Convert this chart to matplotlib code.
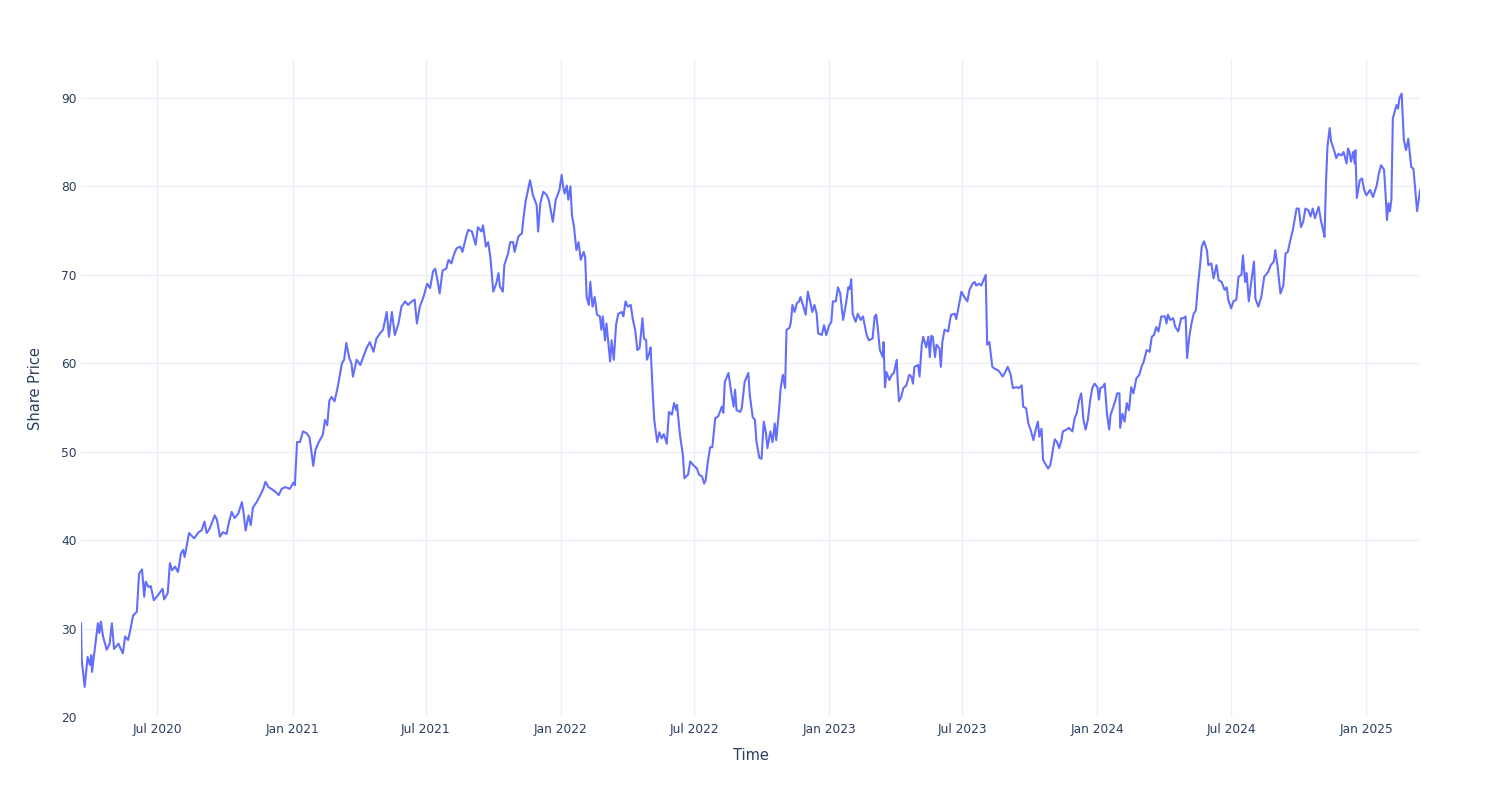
import pandas as pd
import matplotlib.pyplot as plt
import matplotlib.dates as mdates

# serie: dias desde el inicio y precio
start_date = '2020-03-19'
day_offsets = [
    0, 1, 5, 9, 12, 14, 15, 18, 23, 25, 27, 30, 35, 39, 42, 45, 51, 53, 57, 60,
    64, 67, 71, 76, 79, 83, 86, 88, 92, 95, 99, 105, 111, 113, 118, 121, 124, 128, 132, 136,
    139, 141, 147, 154, 160, 164, 168, 171, 175, 182, 185, 189, 193, 198, 201, 205, 209, 214, 219, 221,
    224, 228, 231, 234, 239, 244, 248, 251, 255, 259, 264, 269, 273, 278, 284, 289, 291, 294, 298, 302,
    307, 311, 316,
    319, 323, 329, 332, 335, 338, 341, 345, 349, 351, 355, 358, 361, 365, 368, 370, 375, 380, 384, 389,
    393, 398, 402, 407, 411, 416, 419, 423, 427, 432, 436, 441, 445, 450, 454, 457, 461, 466, 471, 475,
    479, 482, 485, 488, 492, 497, 500, 504, 507, 511, 516, 519, 524, 527, 532, 537, 540, 545, 547, 551,
    554, 557, 561, 565, 568, 570, 574, 576, 581, 584, 588, 590, 595, 597, 600, 602, 605, 611, 615, 620,
    622,
    625, 629, 634, 637, 642, 646, 651, 654, 656, 658, 661, 663, 666, 668, 671, 674, 677, 680, 684, 686,
    688, 691, 693, 696, 699, 702, 706, 708, 710, 713, 715, 720, 722, 725, 728, 731, 736, 738, 741, 744,
    748, 751, 754, 757, 760, 764, 766, 769, 770, 773, 775, 778, 780, 784, 787, 790, 793, 797, 800, 804,
    807, 810, 811, 815, 819, 821, 826, 829, 833, 838, 841, 845, 848, 850, 853, 856, 859, 863, 867, 872,
    874, 876, 881, 885, 888, 890, 892, 897, 899, 903, 908, 910, 914, 917, 919, 923,
    926, 929, 932, 934, 938, 941, 944, 946, 950, 952, 955, 958, 960, 964, 966, 968, 971, 974, 977, 979,
    983, 986, 989, 992, 995, 998, 1001, 1003, 1008, 1011, 1014, 1018, 1021, 1023, 1027, 1030, 1033, 1037, 1041, 1044,
    1046, 1048, 1050, 1054, 1057, 1061, 1064, 1069, 1072, 1077, 1080, 1082, 1084, 1087, 1091, 1092, 1094, 1096, 1100, 1103,
    1106, 1110, 1111, 1113, 1116, 1119, 1123, 1127, 1130, 1132, 1134, 1139, 1141, 1144, 1146, 1150, 1153, 1155, 1157, 1159,
    1162, 1164, 1168, 1170, 1172, 1175, 1180, 1182, 1184, 1189, 1191, 1195, 1198, 1202, 1206, 1209, 1213, 1216, 1218, 1222,
    1225, 1227, 1231, 1233, 1236,
    1240, 1243, 1248, 1251, 1254, 1257, 1261, 1265, 1268, 1273, 1276, 1280, 1282, 1286, 1289, 1292, 1296, 1299, 1302, 1304,
    1307, 1309, 1313, 1316, 1319, 1323, 1325, 1328, 1331, 1334, 1336, 1341, 1344, 1349, 1352, 1355, 1358, 1361, 1364, 1367,
    1370, 1373, 1376, 1379, 1383, 1385, 1387, 1390, 1393, 1396, 1399, 1401, 1404, 1407, 1410, 1413, 1414, 1417, 1420, 1423,
    1426, 1429, 1432, 1436, 1440, 1443, 1446, 1450, 1454, 1457, 1460, 1463, 1466, 1470, 1475, 1477, 1479, 1482, 1486, 1489,
    1493, 1497, 1500, 1503, 1505, 1508, 1511, 1514, 1517, 1520, 1522, 1525, 1528, 1532, 1534,
    1538, 1541, 1545, 1548, 1552, 1556, 1559, 1561, 1565, 1568, 1572, 1575, 1579, 1581, 1584, 1586, 1589, 1592, 1596, 1598,
    1602, 1606, 1610, 1615, 1619, 1623, 1625, 1628, 1632, 1636, 1639, 1642, 1646, 1649, 1654, 1657, 1660, 1663, 1666, 1670,
    1673, 1676, 1679, 1684, 1687, 1690, 1692, 1694, 1696, 1699, 1701, 1705, 1708, 1711, 1715, 1718, 1722, 1724, 1726, 1728,
    1731, 1733, 1734, 1736, 1740, 1743, 1746, 1749, 1754, 1758, 1763, 1766, 1769, 1773, 1775, 1777, 1779, 1781, 1783, 1785,
    1787, 1790, 1792, 1794, 1797, 1800, 1803, 1806, 1810, 1813, 1816, 1818, 1822,
]
share_price = [
    30.6, 26.4, 23.4, 26.8, 25.9, 27.0, 25.1, 27.2, 30.6, 29.5, 30.8, 29.1, 27.6, 28.3, 30.6, 27.7, 28.3, 27.9, 27.2, 29.1,
    28.7, 29.8, 31.5, 31.9, 36.2, 36.7, 33.6, 35.3, 34.7, 34.8, 33.2, 33.8, 34.5, 33.3, 34.0, 37.4, 36.6, 37.0, 36.4, 38.5,
    38.9, 38.1, 40.8, 40.2, 40.9, 41.1, 42.1, 40.8, 41.3, 42.8, 42.3, 40.4, 40.9, 40.7, 41.9, 43.2, 42.5, 43.0, 44.3, 43.2,
    41.1, 42.8, 41.7, 43.7, 44.3, 45.1, 45.8, 46.6, 46.0, 45.8, 45.5, 45.1, 45.8, 46.0, 45.8, 46.5, 46.2, 51.1, 51.1, 52.3,
    52.1, 51.6, 48.4,
    50.2, 51.0, 51.9, 53.6, 53.0, 55.8, 56.2, 55.7, 57.2, 58.1, 60.0, 60.4, 62.3, 60.6, 60.0, 58.5, 60.4, 59.8, 60.7, 61.8,
    62.4, 61.3, 62.8, 63.4, 63.8, 65.8, 63.0, 65.8, 63.2, 64.5, 66.4, 67.0, 66.6, 67.0, 67.2, 64.5, 66.4, 67.5, 69.0, 68.5,
    70.4, 70.7, 69.4, 67.9, 70.5, 70.7, 71.7, 71.3, 72.2, 73.0, 73.2, 72.6, 74.3, 75.1, 74.9, 73.4, 75.4, 74.9, 75.6, 73.2,
    73.7, 72.0, 68.1, 69.0, 70.2, 68.7, 68.1, 71.1, 72.4, 73.7, 73.7, 72.6, 74.3, 74.5, 74.7, 76.4, 78.3, 80.7, 79.0, 77.9,
    74.9,
    78.1, 79.4, 79.0, 78.3, 76.0, 78.5, 79.6, 81.3, 80.0, 79.2, 80.1, 78.5, 80.0, 76.8, 75.3, 72.8, 73.7, 71.7, 72.6, 72.0,
    67.5, 66.6, 69.2, 66.4, 67.5, 65.5, 65.3, 63.8, 65.3, 62.6, 64.5, 60.2, 62.6, 60.4, 64.3, 65.6, 65.8, 65.3, 67.0, 66.4,
    66.6, 64.9, 63.8, 61.5, 61.7, 65.1, 62.8, 62.6, 60.4, 61.1, 61.8, 56.6, 53.6, 51.1, 52.2, 51.5, 52.0, 50.9, 54.5, 54.2,
    55.5, 54.7, 55.3, 51.9, 49.6, 47.0, 47.4, 48.9, 48.5, 48.1, 47.4, 47.2, 46.4, 46.8, 48.9, 50.5, 50.5, 53.8, 54.0, 55.1,
    54.4, 57.9, 58.9, 56.6, 55.1, 57.0, 54.7, 54.5, 54.9, 57.9, 58.9, 56.4, 53.9, 53.6, 51.2, 49.3,
    49.2, 53.4, 52.1, 50.4, 52.3, 51.1, 53.2, 51.3, 54.9, 57.2, 58.7, 57.2, 63.8, 64.0, 64.7, 66.6, 65.8, 66.8, 67.0, 67.5,
    66.4, 65.5, 68.1, 67.0, 65.8, 66.6, 65.6, 63.4, 63.2, 64.3, 63.2, 64.3, 64.7, 67.0, 67.0, 68.6, 67.9, 64.9, 66.8, 68.6,
    68.4, 69.5, 65.6, 64.7, 65.6, 64.9, 65.3, 63.2, 62.6, 62.8, 65.3, 65.5, 64.1, 61.5, 60.7, 62.4, 57.3, 59.0, 58.1, 58.7,
    58.9, 60.4, 58.3, 55.7, 56.2, 57.2, 57.5, 58.7, 58.5, 57.7, 59.6, 59.8, 58.5, 62.1, 63.0, 61.8, 63.0, 60.7, 63.1, 63.0,
    60.7, 62.1, 61.7, 59.6, 62.4, 63.8, 63.6, 64.7, 65.5, 65.6, 65.0, 66.8, 68.1, 67.5, 67.0, 68.3, 69.0, 69.2, 68.8, 69.0,
    68.8, 69.2, 70.0, 62.1, 62.4,
    59.6, 59.4, 59.2, 58.9, 58.5, 58.9, 59.6, 58.7, 57.2, 57.3, 57.2, 57.5, 55.1, 54.9, 53.2, 52.5, 51.3, 52.5, 53.4, 51.7,
    52.6, 49.1, 48.5, 48.1, 48.5, 50.5, 51.4, 51.1, 50.4, 51.3, 52.3, 52.5, 52.7, 52.3, 53.8, 54.4, 55.8, 56.6, 53.6, 52.5,
    53.6, 55.7, 57.2, 57.7, 57.3, 55.9, 57.2, 57.3, 57.7, 54.3, 52.5, 54.2, 54.9, 55.7, 56.6, 56.6, 52.7, 54.3, 53.4, 55.5,
    54.7, 57.3, 56.6, 58.3, 58.7, 59.6, 60.2, 61.5, 61.3, 63.0, 63.2, 64.1, 63.6, 65.3, 65.3, 64.5, 65.5, 64.9, 65.1, 64.1,
    63.6, 65.1, 65.1, 65.3, 60.6, 63.0, 64.5, 65.6, 66.0, 69.0, 70.5, 73.2, 73.8, 72.8, 71.1,
    71.3, 69.6, 71.1, 69.4, 69.2, 68.3, 68.6, 67.2, 66.2, 67.0, 67.2, 69.8, 70.0, 72.2, 69.2, 70.2, 67.0, 69.0, 71.5, 67.3,
    66.4, 67.5, 69.8, 70.3, 71.1, 71.5, 72.8, 71.1, 67.9, 68.8, 72.4, 72.6, 74.1, 75.1, 77.5, 77.5, 75.4, 76.0, 77.5, 77.3,
    76.6, 77.5, 76.4, 77.7, 76.2, 75.1, 74.3, 80.4, 84.5, 86.6, 85.1, 84.1, 83.2, 83.7, 83.5, 83.9, 82.6, 84.3, 83.9, 82.8,
    83.9, 82.6, 84.1, 78.7, 80.7, 80.9, 79.6, 79.0, 79.6, 78.8, 80.1, 81.5, 82.4, 81.9, 79.2, 76.2, 78.1, 77.2, 78.5, 87.7,
    88.3, 89.2, 88.8, 90.0, 90.5, 85.2, 84.1, 85.4, 82.2, 82.0, 79.2, 77.2, 79.6,
]

fechas = pd.Timestamp(start_date) + pd.to_timedelta(day_offsets, unit='D')

plt.rcParams['font.family'] = ['DejaVu Sans']

fig = plt.figure(figsize=(15, 8), dpi=100)
ax = fig.add_axes([0.054, 0.10375, 0.8927, 0.82125])

ax.plot(fechas, share_price, color='#636EFA', linewidth=1.5, zorder=3)

ax.set_xlim(fechas[0], fechas[-1])
ax.set_ylim(20, 94.3)
ax.set_yticks(range(20, 91, 10))
ax.xaxis.set_major_locator(mdates.MonthLocator(bymonth=[1, 7]))
ax.xaxis.set_major_formatter(mdates.DateFormatter('%b %Y'))

ax.grid(True, color='#EBF0F8', linewidth=1)
ax.set_axisbelow(True)
for s in ax.spines.values():
    s.set_visible(False)
ax.tick_params(length=0, labelsize=8.8, labelcolor='#2a3f5f')
ax.tick_params(axis='x', pad=4)
ax.tick_params(axis='y', pad=3)

ax.set_xlabel('Time', fontsize=10.5, color='#2a3f5f', labelpad=9)
ax.set_ylabel('Share Price', fontsize=10.5, color='#2a3f5f', labelpad=13)

fig.savefig('out.png', dpi=100)
